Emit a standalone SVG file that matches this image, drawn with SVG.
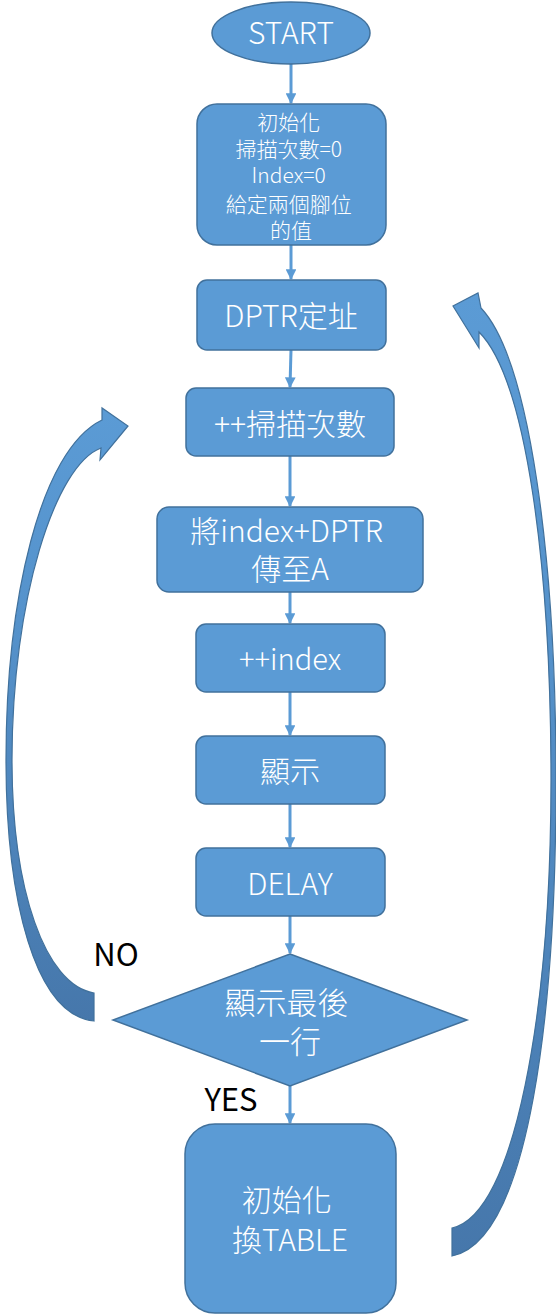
<svg xmlns="http://www.w3.org/2000/svg" width="556" height="1315" viewBox="0 0 556 1315">
<style>
.n{fill:#5B9BD5;stroke:#41719C;stroke-width:1.5}
.t{fill:#FFFFFF;font-family:"Noto Sans CJK TC","Liberation Sans",sans-serif;text-anchor:middle;font-weight:300}
.l{fill:#000000;font-family:"Noto Sans CJK TC","Liberation Sans",sans-serif;text-anchor:middle;font-size:31px}
.c{stroke:#5B9BD5;stroke-width:3;fill:none;marker-end:url(#ah)}
.ca{stroke:#41719C;stroke-width:1.2}
</style>
<defs>
<marker id="ah" viewBox="0 0 10 10" refX="9" refY="5" markerWidth="3.6" markerHeight="3.6" orient="auto" markerUnits="strokeWidth">
<path d="M0,0 L10,5 L0,10 Z" fill="#5B9BD5"/>
</marker>
<linearGradient id="gl" x1="0" y1="0" x2="0" y2="1">
<stop offset="0" stop-color="#5B9BD5"/>
<stop offset="0.35" stop-color="#5592CB"/>
<stop offset="1" stop-color="#4677AB"/>
</linearGradient>
</defs>
<g id="connectors">
<line class="c" x1="291" y1="64" x2="291" y2="103"/>
<line class="c" x1="291" y1="245" x2="291" y2="279"/>
<line class="c" x1="291" y1="350" x2="290" y2="387"/>
<line class="c" x1="290" y1="456" x2="290" y2="506"/>
<line class="c" x1="290" y1="592" x2="290" y2="623"/>
<line class="c" x1="290" y1="692" x2="290" y2="735"/>
<line class="c" x1="290" y1="804" x2="290" y2="847"/>
<line class="c" x1="290" y1="916" x2="290" y2="953"/>
<line class="c" x1="290" y1="1086" x2="290" y2="1123"/>
<path id="loop-no" class="ca" fill="url(#gl)" d="M94,1021 C35,1015 6,900 6,760 C6,600 40,450 102,420 L102,408 L128,426 L100,460 L101,448 C55,465 12,600 12,760 C12,890 45,985 94,993 Z"/>
<path id="loop-table" class="ca" fill="url(#gl)" d="M481,308 C530,360 556,560 556,780 C556,1010 530,1240 452,1256 L452,1228 C515,1215 551,1010 551,780 C551,570 527,380 479,332 L479,348 L453,306 L478,293 Z"/>
</g>
<g id="start">
<ellipse class="n" cx="291" cy="33" rx="79" ry="31"/>
<text class="t" x="291" y="44" font-size="30">START</text>
</g>
<g id="init">
<rect class="n" x="197" y="104" width="189" height="141" rx="20"/>
<text class="t" font-size="21">
<tspan x="291" y="129.5">初始化</tspan>
<tspan x="291" y="156.5">掃描次數=0</tspan>
<tspan x="291" y="182.5">Index=0</tspan>
<tspan x="291" y="211.5">給定兩個腳位</tspan>
<tspan x="291" y="237.5">的值</tspan>
</text>
</g>
<g id="dptr">
<rect class="n" x="197" y="280" width="189" height="70" rx="10"/>
<text class="t" x="291" y="327" font-size="30">DPTR定址</text>
</g>
<g id="scan">
<rect class="n" x="186" y="388" width="208" height="68" rx="10"/>
<text class="t" x="290" y="435" font-size="30">++掃描次數</text>
</g>
<g id="move">
<rect class="n" x="157" y="507" width="266" height="85" rx="12"/>
<text class="t" font-size="30">
<tspan x="290" y="542">將index+DPTR</tspan>
<tspan x="290" y="580">傳至A</tspan>
</text>
</g>
<g id="inc">
<rect class="n" x="196" y="624" width="189" height="68" rx="10"/>
<text class="t" x="290" y="670" font-size="29">++index</text>
</g>
<g id="show">
<rect class="n" x="196" y="736" width="189" height="68" rx="10"/>
<text class="t" x="290" y="782" font-size="30">顯示</text>
</g>
<g id="delay">
<rect class="n" x="196" y="848" width="189" height="68" rx="10"/>
<text class="t" x="290" y="895" font-size="30">DELAY</text>
</g>
<g id="decision">
<polygon class="n" points="290,954 467,1020 290,1086 113,1020"/>
<text class="t" font-size="31">
<tspan x="290" y="1014">顯示最後</tspan>
<tspan x="290" y="1053">一行</tspan>
</text>
</g>
<g id="labels">
<text class="l" x="116" y="966">NO</text>
<text class="l" x="231" y="1111">YES</text>
</g>
<g id="table">
<rect class="n" x="185" y="1124" width="211" height="189" rx="30"/>
<text class="t" font-size="30">
<tspan x="290" y="1211">初始化</tspan>
<tspan x="290" y="1251">換TABLE</tspan>
</text>
</g>
</svg>
